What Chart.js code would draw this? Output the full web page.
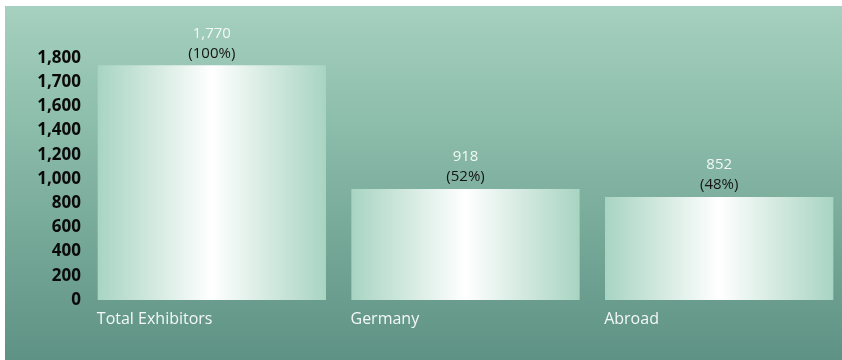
<!DOCTYPE html>
<html>
<head>
<meta charset="utf-8">
<script src="https://cdn.jsdelivr.net/npm/chart.js@4.4.1/dist/chart.umd.min.js"></script>
<style>
  html, body { margin: 0; padding: 0; background: #ffffff; overflow: hidden; }
  #wrap { position: relative; width: 842px; height: 360px; overflow: hidden; }
  #panel {
    position: absolute; left: 5px; top: 6px; right: 0; bottom: 0;
    background: linear-gradient(to bottom, #a6d0c0 0%, #8fbfad 30%, #5e9284 100%);
  }
  #c { position: absolute; left: 0; top: 0; }
</style>
</head>
<body>
<div id="wrap">
  <div id="panel"></div>
  <canvas id="c" width="850" height="360"></canvas>
</div>
<script>
// Exhibitor counts by origin
const categories = ['Total Exhibitors', 'Germany', 'Abroad'];
const exhibitors = [1770, 918, 852];
const shares = [100, 52, 48];
// Value axis stops, drawn evenly spaced
const yTickValues = [0, 200, 400, 600, 800, 1000, 1200, 1400, 1600, 1700, 1800];

const fmt = v => Number(v).toLocaleString('en-US');

// Value scale that places every stop at an equal distance and
// interpolates linearly between neighbouring stops.
const Linear = Chart.LinearScale || Chart.registry.getScale('linear');
class StepScale extends Linear {
  buildTicks() {
    this.min = yTickValues[0];
    this.max = yTickValues[yTickValues.length - 1];
    return yTickValues.map(v => ({ value: v }));
  }
  stepIndex(value) {
    const t = yTickValues;
    if (value <= t[0]) return 0;
    for (let i = 1; i < t.length; i++) {
      if (value <= t[i]) return i - 1 + (value - t[i - 1]) / (t[i] - t[i - 1]);
    }
    return t.length - 1;
  }
  getPixelForValue(value) {
    if (value === null || value === undefined || isNaN(value)) return NaN;
    return this.getPixelForDecimal(this.stepIndex(value) / (yTickValues.length - 1));
  }
  getValueForPixel(pixel) {
    const t = yTickValues;
    const pos = this.getDecimalForPixel(pixel) * (t.length - 1);
    const i = Math.max(0, Math.min(t.length - 2, Math.floor(pos)));
    return t[i] + (pos - i) * (t[i + 1] - t[i]);
  }
}
StepScale.id = 'steps';
Chart.register(StepScale);

// Horizontal white sheen across each bar
function barFill(c) {
  const chart = c.chart;
  const xs = chart.scales.x;
  if (!xs || !chart.chartArea) return '#cfe6dc';
  const cx = xs.getPixelForValue(c.dataIndex);
  const half = (xs.width / categories.length) * 0.9 / 2;
  const g = chart.ctx.createLinearGradient(cx - half, 0, cx + half, 0);
  g.addColorStop(0, '#a8d4c2');
  g.addColorStop(0.5, '#ffffff');
  g.addColorStop(1, '#a8d4c2');
  return g;
}

// Count and share printed above each bar
const valueLabels = {
  id: 'valueLabels',
  afterDatasetsDraw(chart) {
    const ctx = chart.ctx;
    const meta = chart.getDatasetMeta(0);
    ctx.save();
    ctx.textAlign = 'center';
    ctx.textBaseline = 'middle';
    ctx.font = '15px "Open Sans"';
    meta.data.forEach((bar, i) => {
      ctx.fillStyle = '#f3f8f5';
      ctx.fillText(fmt(exhibitors[i]), bar.x, bar.y - 32);
      ctx.fillStyle = '#151515';
      ctx.fillText('(' + shares[i] + '%)', bar.x, bar.y - 12);
    });
    ctx.restore();
  }
};

new Chart(document.getElementById('c'), {
  type: 'bar',
  data: {
    labels: categories,
    datasets: [{
      data: exhibitors,
      backgroundColor: barFill,
      borderWidth: 0,
      categoryPercentage: 0.9,
      barPercentage: 1.0
    }]
  },
  options: {
    responsive: false,
    animation: false,
    devicePixelRatio: 1,
    layout: { padding: { top: 58, right: 4, left: 0, bottom: 0 } },
    plugins: { legend: { display: false }, tooltip: { enabled: false } },
    scales: {
      x: {
        grid: { display: false, drawTicks: false },
        border: { display: false },
        ticks: {
          color: '#f4f8f6',
          font: { family: '"Open Sans"', size: 16 },
          align: 'start',
          labelOffset: -115,
          padding: 10,
          maxRotation: 0,
          autoSkip: false
        },
        afterFit(s) { s.height = 60; }
      },
      y: {
        type: 'steps',
        grid: { display: false, drawTicks: false },
        border: { display: false },
        ticks: {
          color: '#0a0a0a',
          font: { family: '"Open Sans"', size: 17, weight: 'bold' },
          padding: 4,
          callback: v => fmt(v)
        },
        afterFit(s) { s.width = 85; }
      }
    }
  },
  plugins: [valueLabels]
});
</script>
</body>
</html>
